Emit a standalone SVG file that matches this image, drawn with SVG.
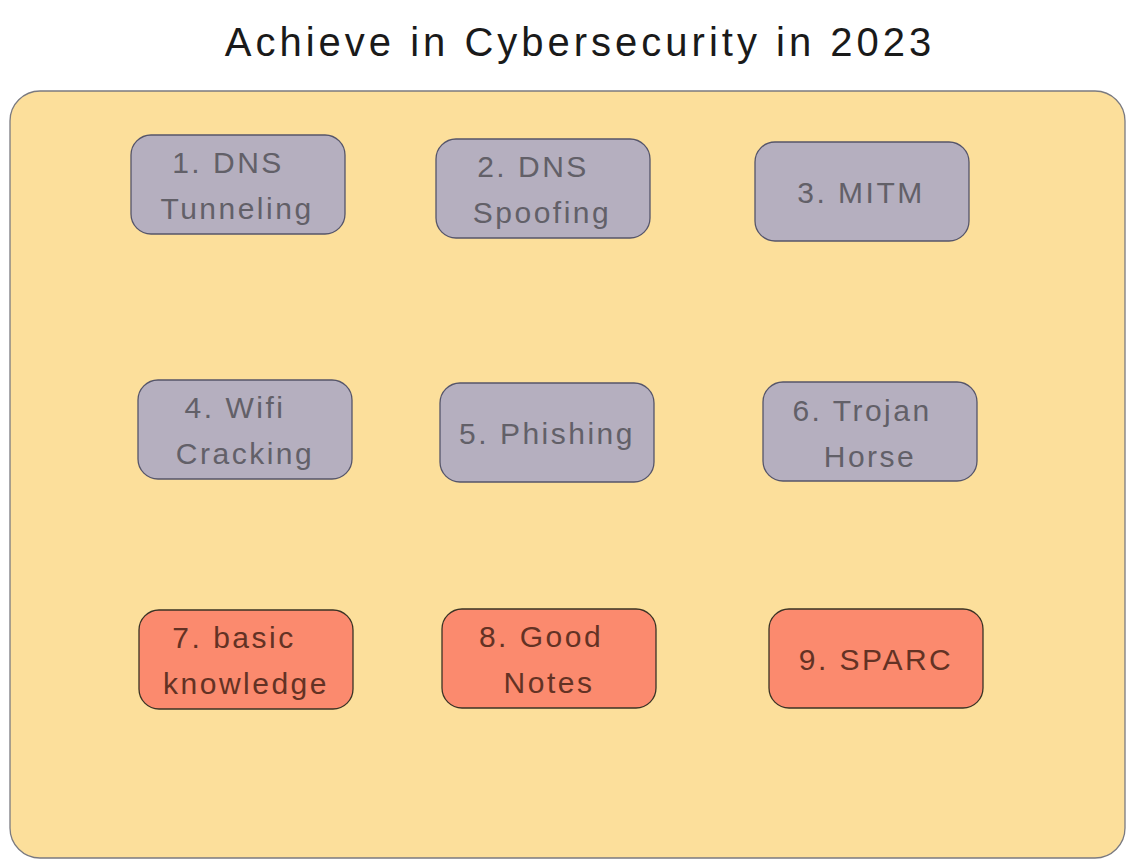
<svg xmlns="http://www.w3.org/2000/svg" width="1135" height="868" viewBox="0 0 1135 868">
<style>
.bg{fill:#ffffff}
.cont{fill:#fcdf9b;stroke:#7a7a80;stroke-width:1.3}
.g rect{fill:#b5afbf;stroke:#55556a;stroke-width:1.3}
.r rect{fill:#fb8a6e;stroke:#3a3325;stroke-width:1.3}
text{font-family:"Liberation Sans","DejaVu Sans",sans-serif;text-anchor:middle}
.g text{fill:#626068;font-size:30px;letter-spacing:2.5px}
.r text{fill:#633224;font-size:30px;letter-spacing:2.5px}
.title{font-size:40px;fill:#1a1a1a;letter-spacing:4px}
</style>
<rect class="bg" x="0" y="0" width="1135" height="868"/>
<g id="title"><text class="title" x="580" y="56">Achieve in Cybersecurity in 2023</text></g>
<g id="container"><rect class="cont" x="10" y="91" width="1115" height="767" rx="30"/></g>
<g id="n1" class="g"><rect x="131" y="135" width="214" height="99" rx="20"/><text x="228" y="173">1. DNS</text><text x="237" y="219">Tunneling</text></g>
<g id="n2" class="g"><rect x="436" y="139" width="214" height="99" rx="20"/><text x="533" y="177">2. DNS</text><text x="542" y="223">Spoofing</text></g>
<g id="n3" class="g"><rect x="755" y="142" width="214" height="99" rx="20"/><text x="861" y="203">3. MITM</text></g>
<g id="n4" class="g"><rect x="138" y="380" width="214" height="99" rx="20"/><text x="235" y="418">4. Wifi</text><text x="245" y="464">Cracking</text></g>
<g id="n5" class="g"><rect x="440" y="383" width="214" height="99" rx="20"/><text x="547" y="444">5. Phishing</text></g>
<g id="n6" class="g"><rect x="763" y="382" width="214" height="99" rx="20"/><text x="862" y="421">6. Trojan</text><text x="870" y="467">Horse</text></g>
<g id="n7" class="r"><rect x="139" y="610" width="214" height="99" rx="20"/><text x="234" y="648">7. basic</text><text x="246" y="694">knowledge</text></g>
<g id="n8" class="r"><rect x="442" y="609" width="214" height="99" rx="20"/><text x="541" y="647">8. Good</text><text x="549" y="693">Notes</text></g>
<g id="n9" class="r"><rect x="769" y="609" width="214" height="99" rx="20"/><text x="876" y="670">9. SPARC</text></g>
<g id="connectors"></g>
</svg>
